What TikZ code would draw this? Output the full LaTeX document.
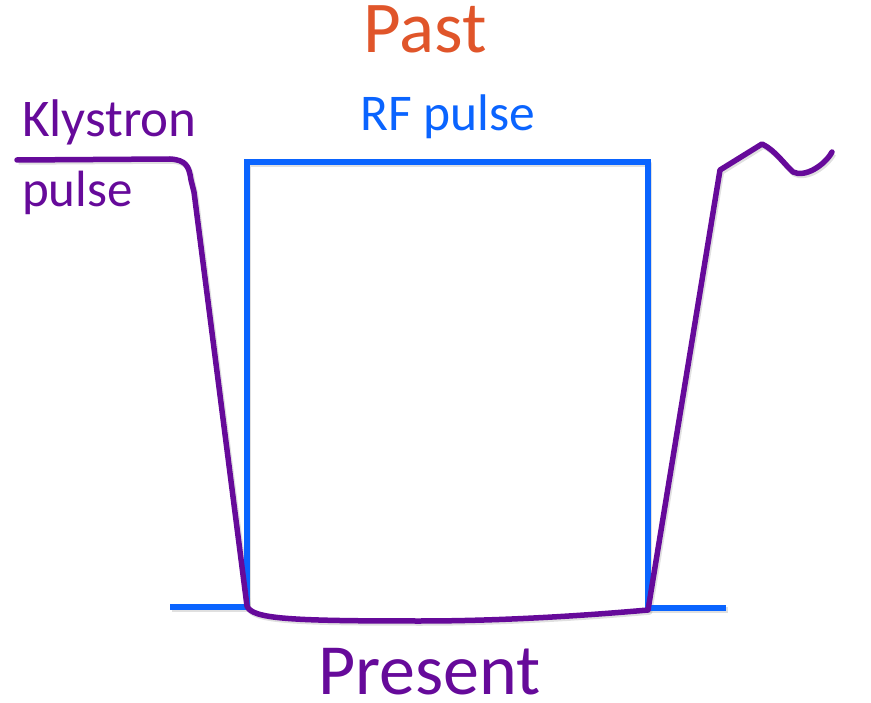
\documentclass[tikz,border=0pt]{standalone}
\usepackage{fontspec}
\setmainfont{Carlito}
\definecolor{kpurple}{HTML}{660A9A}
\definecolor{rfblue}{HTML}{0A64FF}
\definecolor{pastorange}{HTML}{E0552A}
\begin{document}
\begin{tikzpicture}[x=1pt,y=-1pt,
  wave/.style={line width=5.5pt,line join=round,line cap=round},
  shade/.style={line width=5.5pt,draw=black,opacity=0.12,line join=round},
  lbl/.style={inner sep=0pt,anchor=base west,text depth=0pt}]
\useasboundingbox (0,0) rectangle (871,703);
% coordinates
\coordinate (b0) at (170,607);
\coordinate (b1) at (247,607);
\coordinate (b2) at (247,162);
\coordinate (b3) at (648,162);
\coordinate (b4) at (648,608);
\coordinate (b5) at (726,608);
% shadows
\draw[shade,line cap=butt,transform canvas={shift={(1.5pt,-2pt)}}] (b0) -- (b1) -- (b2) -- (b3) -- (b4) -- (b5);
\draw[shade,transform canvas={shift={(1.5pt,-2pt)}}] (17,160) -- (170,159) .. controls (186,160) and (189,166) .. (191,180) -- (194,192) -- (247,606)
  .. controls (252,619) and (290,621) .. (420,621) .. controls (500,621) and (580,616) .. (648,610) -- (720,170) -- (762,144)
  .. controls (775,150) and (785,165) .. (793,172) .. controls (805,178) and (825,165) .. (832,152);
% RF pulse
\draw[wave,draw=rfblue,line cap=butt,line join=miter] (b0) -- (b1) -- (b2) -- (b3) -- (b4) -- (b5);
% klystron pulse
\draw[wave,draw=kpurple] (17,160) -- (170,159) .. controls (186,160) and (189,166) .. (191,180) -- (194,192) -- (247,606)
  .. controls (252,619) and (290,621) .. (420,621) .. controls (500,621) and (580,616) .. (648,610) -- (720,170) -- (762,144)
  .. controls (775,150) and (785,165) .. (793,172) .. controls (805,178) and (825,165) .. (832,152);
% labels
\node[lbl,text=pastorange,font=\fontsize{73}{73}\selectfont] (past) at (363,53) {Past};
\node[lbl,text=rfblue,font=\fontsize{51.5}{51.5}\selectfont] (rf) at (360,131) {RF pulse};
\node[lbl,text=kpurple,font=\fontsize{53}{53}\selectfont] (kly) at (22,137) {Klystron};
\node[lbl,text=kpurple,font=\fontsize{51}{51}\selectfont] (pulse) at (22,207) {pulse};
\node[lbl,text=kpurple,font=\fontsize{72}{72}\selectfont] (present) at (318,694) {Present};
\end{tikzpicture}
\end{document}
